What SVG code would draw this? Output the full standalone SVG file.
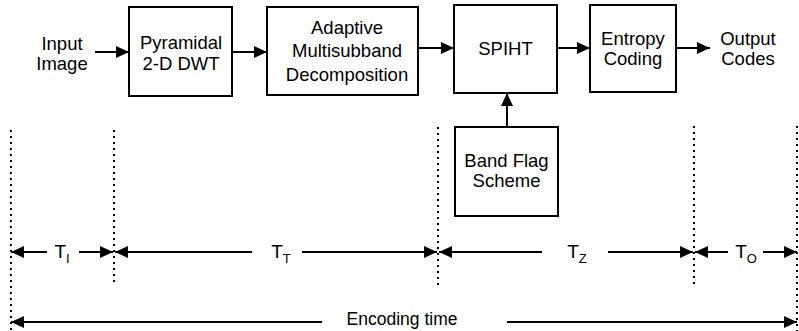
<svg xmlns="http://www.w3.org/2000/svg" width="799" height="331" viewBox="0 0 799 331">
<style>
.box{fill:#fff;stroke:#000;stroke-width:2}
.t{font-family:"Liberation Sans",Arial,sans-serif;font-size:18.5px;fill:#000;text-anchor:middle}
.ln{stroke:#000;stroke-width:2;fill:none}
.dot{stroke:#000;stroke-width:2;stroke-dasharray:2 4;fill:none}
.tt{font-size:19px}
.sub{font-size:13px}
</style>
<defs>
<marker id="ah" markerUnits="userSpaceOnUse" markerWidth="14" markerHeight="12" refX="13" refY="6" orient="auto">
<path d="M0,0 L13,6 L0,12 z" fill="#000"/>
</marker>
</defs>
<rect width="799" height="331" fill="#fff"/>
<g id="input"><text class="t" x="62" y="50">Input</text><text class="t" x="62" y="70">Image</text></g>
<g id="dwt"><rect class="box" x="129" y="7" width="103" height="89"/><text class="t" x="181" y="49">Pyramidal</text><text class="t" x="181" y="70">2-D DWT</text></g>
<g id="amd"><rect class="box" x="267" y="7" width="151" height="88"/><text class="t" x="347" y="34">Adaptive</text><text class="t" x="347" y="57">Multisubband</text><text class="t" x="347" y="81">Decomposition</text></g>
<g id="spiht"><rect class="box" x="454" y="5" width="103" height="88"/><text class="t" x="505.500" y="55">SPIHT</text></g>
<g id="entropy"><rect class="box" x="590" y="5" width="86" height="87"/><text class="t" x="633" y="45">Entropy</text><text class="t" x="633" y="65">Coding</text></g>
<g id="output"><text class="t" x="748" y="45">Output</text><text class="t" x="748" y="65">Codes</text></g>
<g id="bandflag"><rect class="box" x="455" y="127" width="103" height="89"/><text class="t" x="506.500" y="167">Band Flag</text><text class="t" x="506.500" y="187">Scheme</text></g>
<g id="connectors">
<line class="ln" x1="95" y1="52" x2="129" y2="52" marker-end="url(#ah)"/>
<line class="ln" x1="232" y1="52" x2="267" y2="52" marker-end="url(#ah)"/>
<line class="ln" x1="418" y1="48" x2="454" y2="48" marker-end="url(#ah)"/>
<line class="ln" x1="557" y1="48" x2="590" y2="48" marker-end="url(#ah)"/>
<line class="ln" x1="676" y1="48" x2="710" y2="48" marker-end="url(#ah)"/>
<line class="ln" x1="507" y1="127" x2="507" y2="93" marker-end="url(#ah)"/>
</g>
<g id="timeline">
<line class="dot" x1="11" y1="130" x2="11" y2="331"/>
<line class="dot" x1="114" y1="130" x2="114" y2="286"/>
<line class="dot" x1="438" y1="127" x2="438" y2="286"/>
<line class="dot" x1="694" y1="126" x2="694" y2="284"/>
<line class="dot" x1="797" y1="126" x2="797" y2="331"/>
<line class="ln" x1="47" y1="252" x2="11" y2="252" marker-end="url(#ah)"/>
<text class="t tt" x="62" y="258">T<tspan class="sub" dy="5">I</tspan></text>
<line class="ln" x1="79" y1="252" x2="113" y2="252" marker-end="url(#ah)"/>
<line class="ln" x1="252" y1="252" x2="115" y2="252" marker-end="url(#ah)"/>
<text class="t tt" x="281" y="258">T<tspan class="sub" dy="5">T</tspan></text>
<line class="ln" x1="302" y1="252" x2="437" y2="252" marker-end="url(#ah)"/>
<line class="ln" x1="542" y1="252" x2="439" y2="252" marker-end="url(#ah)"/>
<text class="t tt" x="577" y="258">T<tspan class="sub" dy="5">Z</tspan></text>
<line class="ln" x1="608" y1="252" x2="693" y2="252" marker-end="url(#ah)"/>
<line class="ln" x1="728" y1="252" x2="695" y2="252" marker-end="url(#ah)"/>
<text class="t tt" x="746" y="258">T<tspan class="sub" dy="5">O</tspan></text>
<line class="ln" x1="763" y1="252" x2="797" y2="252" marker-end="url(#ah)"/>
<line class="ln" x1="322" y1="322" x2="11" y2="322" marker-end="url(#ah)"/>
<text class="t" x="402" y="325" style="font-size:17.5px">Encoding time</text>
<line class="ln" x1="507" y1="322" x2="797" y2="322" marker-end="url(#ah)"/>
</g>
</svg>
